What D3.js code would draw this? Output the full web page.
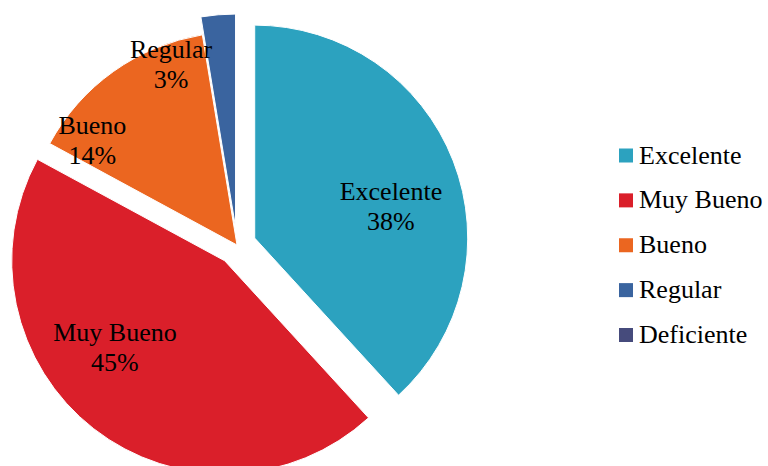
<!DOCTYPE html>
<html>
<head>
<meta charset="utf-8">
<script src="https://cdn.jsdelivr.net/npm/d3@7"></script>
<style>
  html, body { margin: 0; padding: 0; background: #ffffff; }
  svg { display: block; }
</style>
</head>
<body>
<svg id="chart" width="768" height="466"></svg>
<script>
// ---- data ----
const categories = ["Excelente", "Muy Bueno", "Bueno", "Regular", "Deficiente"];
const values = [38.2, 44.7, 14.5, 2.6, 0];
const percentLabels = ["38%", "45%", "14%", "3%", "0%"];

// ---- styling / layout (not data) ----
const colors = ["#2ca2bf", "#da1f2a", "#eb6620", "#3a649f", "#464b7c"];
const explode = [19, 20, 0, 18, 0];              // px offset of each slice
const labelAngleShift = [8, 13.9, -18.6, -16.9, 0]; // degrees
const labelRadiusFrac = [0.657, 0.655, 0.839, 0.823, 0.7];
const FONT = "'Liberation Serif', 'DejaVu Serif', 'Times New Roman', serif";

const W = 768, H = 466;
const cx = 237, cy = 245, R = 213;
const fontSize = 26, lineGap = 30.5;

const svg = d3.select("#chart");

const pie = d3.pie().sort(null).value(d => d).startAngle(0).endAngle(2 * Math.PI);
const arcs = pie(values);
const arc = d3.arc().innerRadius(0).outerRadius(R);

const slices = svg.append("g").attr("class", "slices");

arcs.forEach((a, i) => {
  if (a.value <= 0) return;
  const mid = (a.startAngle + a.endAngle) / 2;
  const ox = cx + explode[i] * Math.sin(mid);
  const oy = cy - explode[i] * Math.cos(mid);
  const g = slices.append("g").attr("transform", `translate(${ox},${oy})`);
  g.append("path")
    .attr("d", arc(a))
    .attr("fill", colors[i])
    .attr("stroke", "#ffffff")
    .attr("stroke-width", 1);

  const la = mid + labelAngleShift[i] * Math.PI / 180;
  const lr = R * labelRadiusFrac[i];
  const lx = lr * Math.sin(la);
  const ly = -lr * Math.cos(la);
  const t = g.append("text")
    .attr("text-anchor", "middle")
    .attr("font-family", FONT)
    .attr("font-size", fontSize)
    .attr("fill", "#000");
  const b1 = ly - lineGap / 2 + 0.35 * fontSize;
  t.append("tspan").attr("x", lx).attr("y", b1).text(categories[i]);
  t.append("tspan").attr("x", lx).attr("y", b1 + lineGap).text(percentLabels[i]);
});

// ---- legend ----
const legendY = d3.scalePoint().domain(categories).range([163.5, 343]);
const legend = svg.append("g").attr("class", "legend");
categories.forEach((c, i) => {
  const y = legendY(c);
  legend.append("rect")
    .attr("x", 619).attr("y", y - 15)
    .attr("width", 14).attr("height", 14)
    .attr("fill", colors[i]);
  legend.append("text")
    .attr("x", 639).attr("y", y)
    .attr("font-family", FONT)
    .attr("font-size", fontSize)
    .attr("fill", "#000")
    .text(c);
});
</script>
</body>
</html>
